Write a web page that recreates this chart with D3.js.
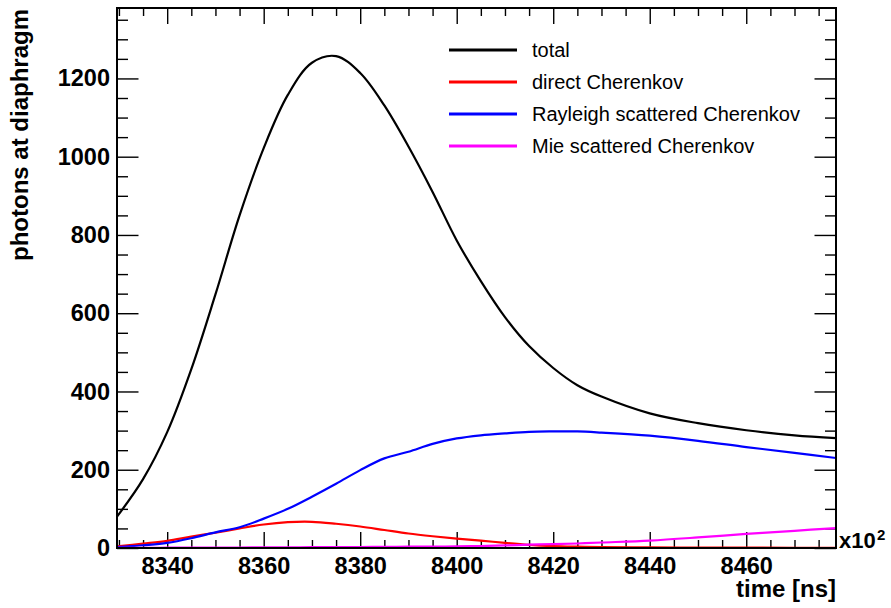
<!DOCTYPE html>
<html>
<head>
<meta charset="utf-8">
<script src="https://cdn.jsdelivr.net/npm/d3@7"></script>
<style>
  body { margin: 0; background: #fff; }
  text { font-family: "Liberation Sans", Arial, Helvetica, sans-serif; }
</style>
</head>
<body>
<svg id="chart" width="891" height="608"></svg>
<script>
// time samples (axis shows x10^2)
const time = [8329.6, 8335, 8340, 8345, 8350, 8355, 8360, 8365, 8370, 8375, 8380, 8385, 8390,
    8395, 8400, 8405, 8410, 8415, 8420, 8425, 8430, 8440, 8450, 8460, 8470, 8478.6];
const total = [80, 176, 296, 457, 648, 850, 1022, 1158, 1240, 1257, 1214, 1131, 1026,
    910, 786, 682, 590, 516, 460, 416, 387, 344, 319, 301, 288, 281];
const direct = [4, 11, 18, 29, 39, 50, 60, 66, 67, 62, 55, 46, 37,
    30, 24, 19, 13, 8, 5, 3.5, 2.5, 1.5, 1, 1, 0.5, 0.5];
const rayleigh = [2, 7, 13, 25, 40, 53, 75, 100, 131, 164, 199, 229, 246,
    266, 280, 288, 293, 297, 298, 298, 295, 287, 274, 258, 243, 230];
const mie = [0.5, 0.5, 0.8, 1, 1, 1.2, 1.5, 1.8, 2, 2.3, 2.6, 3, 3.3,
    3.7, 4, 5, 6.5, 8.5, 10, 11.5, 14, 19, 27, 36, 44, 51];

const seriesNames = ["total", "direct Cherenkov", "Rayleigh scattered Cherenkov", "Mie scattered Cherenkov"];
const seriesValues = [total, direct, rayleigh, mie];
const seriesColors = ["#000000", "#ff0000", "#0000ff", "#ff00ff"];

const xMajor = d3.range(8340, 8461, 20);
const xMinor = d3.range(8330, 8478, 5).filter(v => v % 20 != 0);
const yMajor = d3.range(0, 1201, 200);
const yMinor = d3.range(0, 1380, 50).filter(v => v % 200 != 0);

const svg = d3.select("#chart");
const L = 117, T = 8, R = 836, B = 548;

const xScale = d3.scaleLinear().domain([8329.6, 8478.6]).range([L, R]);
const yScale = d3.scaleLinear().domain([0, 1380]).range([B, T]);

svg.append("defs").append("clipPath").attr("id", "plot")
    .append("rect").attr("x", L).attr("y", T).attr("width", R - L).attr("height", B - T);

// ticks on all four sides, pointing inward
function ticks(axis, values, size, transform, fmt) {
    const g = svg.append("g")
        .attr("transform", transform)
        .call(axis.tickValues(values).tickSizeInner(-size).tickSizeOuter(0)
            .tickFormat(fmt || ""));
    g.select(".domain").remove();
    g.selectAll("line").attr("stroke", "#000").attr("stroke-width", 1.4);
    return g;
}

const xb = ticks(d3.axisBottom(xScale).tickPadding(9), xMajor, 16, `translate(0,${B})`, d3.format("d"));
ticks(d3.axisBottom(xScale), xMinor, 8, `translate(0,${B})`);
ticks(d3.axisTop(xScale), xMajor, 16, `translate(0,${T})`);
ticks(d3.axisTop(xScale), xMinor, 8, `translate(0,${T})`);
const yl = ticks(d3.axisLeft(yScale).tickPadding(7), yMajor, 21.5, `translate(${L},0)`, d3.format("d"));
ticks(d3.axisLeft(yScale), yMinor, 11, `translate(${L},0)`);
ticks(d3.axisRight(yScale), yMajor, 21.5, `translate(${R},0)`);
ticks(d3.axisRight(yScale), yMinor, 11, `translate(${R},0)`);

[xb, yl].forEach(g => g.selectAll("text")
    .attr("font-family", "Liberation Sans, Arial, sans-serif")
    .style("font-size", "23.5px")
    .style("font-weight", "bold")
    .attr("fill", "#000"));

// curves
const line = d3.line()
    .x((d, i) => xScale(time[i]))
    .y(d => yScale(d))
    .curve(d3.curveCatmullRom.alpha(0.5));

const curves = svg.append("g").attr("clip-path", "url(#plot)");
seriesValues.forEach((vals, i) => {
    curves.append("path")
        .attr("d", line(vals))
        .attr("fill", "none")
        .attr("stroke", seriesColors[i])
        .attr("stroke-width", 2.2);
});

// frame
svg.append("rect")
    .attr("x", L).attr("y", T).attr("width", R - L).attr("height", B - T)
    .attr("fill", "none").attr("stroke", "#000").attr("stroke-width", 2);

// legend
const legend = svg.append("g").attr("transform", "translate(449,50)");
seriesNames.forEach((name, i) => {
    const row = legend.append("g").attr("transform", `translate(0,${i * 32})`);
    row.append("line").attr("x1", 0).attr("x2", 68).attr("y1", 0).attr("y2", 0)
        .attr("stroke", seriesColors[i]).attr("stroke-width", 3);
    row.append("text").attr("x", 83).attr("y", 7)
        .style("font-size", "20px").attr("fill", "#000").text(name);
});

// axis titles
svg.append("text")
    .attr("x", 836).attr("y", 597)
    .attr("text-anchor", "end")
    .style("font-size", "24px").style("font-weight", "bold")
    .text("time [ns]");

svg.append("text")
    .attr("transform", "translate(28,9) rotate(-90)")
    .attr("text-anchor", "end")
    .style("font-size", "24px").style("font-weight", "bold")
    .text("photons at diaphragm");

svg.append("text")
    .attr("x", 839).attr("y", 548)
    .style("font-size", "22px").style("font-weight", "bold")
    .text("x10");
svg.append("text")
    .attr("x", 877).attr("y", 540)
    .style("font-size", "15px").style("font-weight", "bold")
    .text("2");
</script>
</body>
</html>
